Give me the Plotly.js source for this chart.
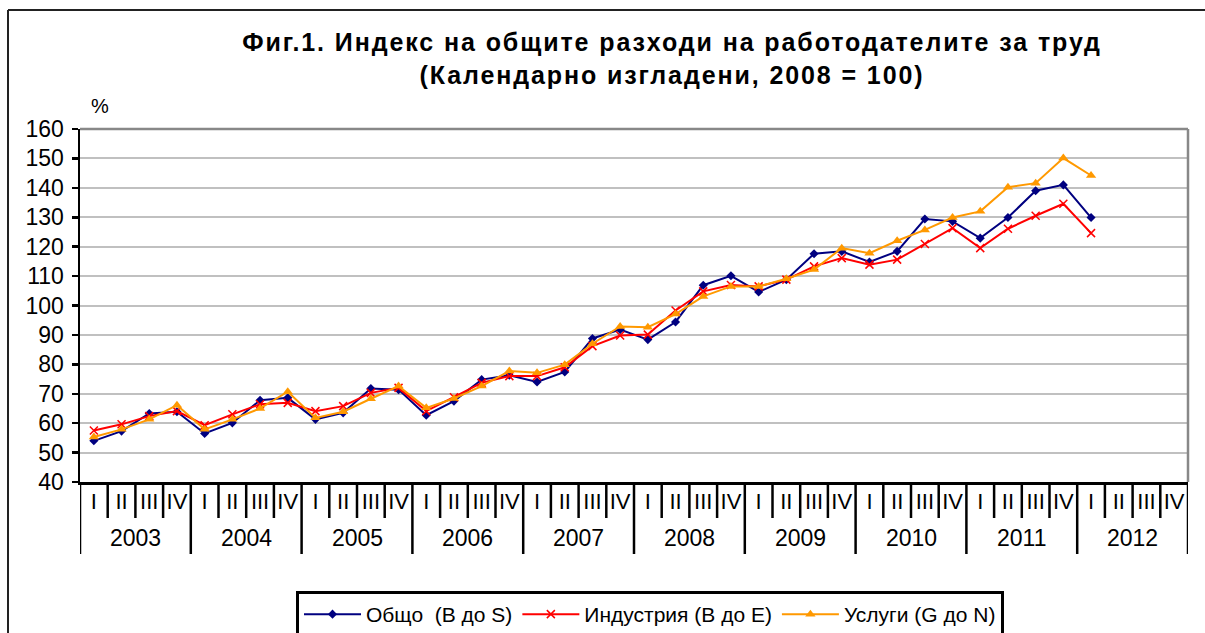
<!DOCTYPE html>
<html>
<head>
<meta charset="utf-8">
<script src="https://cdn.plot.ly/plotly-3.0.1.min.js"></script>
<style>
html,body{margin:0;padding:0;background:#fff;}
#chart{width:1205px;height:633px;}
#chart .gtitle{letter-spacing:1.9px;}
</style>
</head>
<body>
<div id="chart"></div>
<script>
const years = ['2003','2004','2005','2006','2007','2008','2009','2010','2011','2012'];
const quarters = ['I','II','III','IV'];
const seriesNames = ['Общо  (В до S)', 'Индустрия (В до Е)', 'Услуги (G до N)'];
const total = [54, 57.3, 63.3, 63.9, 56.5, 60.1, 67.8, 68.6, 61.3, 63.5, 71.8, 71.4, 62.7, 67.5, 74.8, 76.3, 74, 77.4, 88.8, 91.8, 88.4, 94.4, 106.9, 110.1, 104.6, 108.8, 117.6, 118.4, 114.8, 118.4, 129.4, 128.6, 122.9, 129.9, 139, 141, 129.9];
const industry = [57.5, 59.6, 62.4, 64.1, 59.3, 63, 66.4, 66.9, 64.1, 65.8, 70.3, 72, 64.1, 68.8, 73.7, 76, 76, 79, 86.2, 89.8, 90.1, 98.3, 104.8, 107, 106.5, 108.8, 113.3, 116.1, 113.9, 115.6, 120.9, 126.3, 119.5, 126.1, 130.5, 134.6, 124.6];
const services = [55.3, 57.9, 61.3, 66.1, 57.9, 61.3, 65, 70.7, 61.8, 63.9, 68.3, 72.6, 65.2, 68.4, 72.6, 77.7, 77.1, 79.9, 87, 92.9, 92.6, 97.1, 103.1, 106.5, 106.5, 109.1, 112.2, 119.5, 117.8, 122, 125.7, 129.9, 132, 140.2, 141.6, 150.1, 144.2];

// category index for every quarter of every year
const catIndex = [], catQuarter = [];
years.forEach((y, yi) => quarters.forEach((q, qi) => { catIndex.push(yi * quarters.length + qi); catQuarter.push(q); }));
const nCat = catIndex.length;

const font = 'Liberation Sans, Arial, sans-serif';
const traces = [
  {name: seriesNames[0], y: total, color: '#000080', symbol: 'diamond', size: 7, lw: 0},
  {name: seriesNames[1], y: industry, color: '#FF0000', symbol: 'x-thin', size: 8, lw: 1.5},
  {name: seriesNames[2], y: services, color: '#FF9900', symbol: 'triangle-up', size: 9, lw: 0}
].map(s => ({
  type: 'scatter', mode: 'lines+markers', name: s.name,
  x: catIndex.slice(0, s.y.length), y: s.y,
  line: {color: s.color, width: 2},
  marker: {symbol: s.symbol, size: s.size, color: s.color, line: {color: s.color, width: s.lw}}
}));

const plotH = 353, plotW = 1108;
const fx = px => (px - 80) / plotW, fy = pyy => (482 - pyy) / plotH;
const shapes = [];
for (let i = 0; i <= nCat; i++) {
  const isYear = i % quarters.length === 0;
  shapes.push({type: 'line', xref: 'x', yref: 'paper', x0: i - 0.5, x1: i - 0.5,
    y0: 0, y1: fy(isYear ? 554 : 518), line: {color: '#000', width: 2.5}});
}
// plot area top/right border
shapes.push({type: 'line', xref: 'paper', yref: 'paper', x0: 0, x1: 1, y0: 1, y1: 1, line: {color: '#888', width: 2.5}});
shapes.push({type: 'line', xref: 'paper', yref: 'paper', x0: 1, x1: 1, y0: 0, y1: 1, line: {color: '#888', width: 2.5}});
// outer frame
shapes.push({type: 'line', xref: 'paper', yref: 'paper', x0: fx(8), x1: fx(1210), y0: fy(10), y1: fy(10), line: {color: '#222', width: 2}});
shapes.push({type: 'line', xref: 'paper', yref: 'paper', x0: fx(8), x1: fx(8), y0: fy(10), y1: fy(640), line: {color: '#222', width: 2}});

const annotations = [{
  text: '%', xref: 'paper', yref: 'paper', x: fx(100), y: fy(106),
  xanchor: 'center', yanchor: 'middle', showarrow: false,
  font: {family: font, size: 20, color: '#000'}
}];
years.forEach((y, yi) => annotations.push({
  text: y, xref: 'x', yref: 'paper',
  x: yi * quarters.length + (quarters.length - 1) / 2, y: fy(538),
  xanchor: 'center', yanchor: 'middle', showarrow: false,
  font: {family: font, size: 23, color: '#000'}
}));

const layout = {
  width: 1205, height: 633,
  margin: {l: 80, r: 17, t: 129, b: 151},
  paper_bgcolor: '#fff', plot_bgcolor: '#fff',
  font: {family: font, size: 16, color: '#000'},
  title: {
    text: '<b>Фиг.1. Индекс на общите разходи на работодателите за труд<br>(Календарно изгладени, 2008 = 100)</b>',
    font: {family: font, size: 25, color: '#000'},
    x: 672 / 1205, xanchor: 'center', xref: 'container',
    y: 1 - 51 / 633, yanchor: 'middle', yref: 'container'
  },
  xaxis: {
    type: 'linear', range: [-0.5, nCat - 0.5], automargin: false,
    tickmode: 'array', tickvals: catIndex, ticktext: catQuarter,
    showgrid: false, ticks: '', ticklabelstandoff: -2,
    showline: true, linecolor: '#000', linewidth: 2.5,
    tickfont: {family: font, size: 22, color: '#000'},
    zeroline: false, fixedrange: true
  },
  yaxis: {
    range: [40, 160], dtick: 10, tick0: 40, automargin: false,
    showgrid: true, gridcolor: '#C0C0C0', gridwidth: 2,
    showline: true, linecolor: '#000', linewidth: 2.5,
    ticks: 'outside', ticklen: 6, tickwidth: 2.5, tickcolor: '#000',
    ticklabelstandoff: 3,
    tickfont: {family: font, size: 23, color: '#000'},
    zeroline: false, fixedrange: true
  },
  showlegend: true,
  legend: {
    orientation: 'h', xref: 'container', yref: 'container',
    x: 650 / 1205, xanchor: 'center', y: 1 - 591 / 633, yanchor: 'top',
    bgcolor: '#fff', bordercolor: '#000', borderwidth: 3,
    font: {family: font, size: 21, color: '#000'},
    itemwidth: 57, traceorder: 'normal'
  },
  annotations: annotations,
  shapes: shapes
};

Plotly.newPlot('chart', traces, layout, {displayModeBar: false, staticPlot: true});
</script>
</body>
</html>
